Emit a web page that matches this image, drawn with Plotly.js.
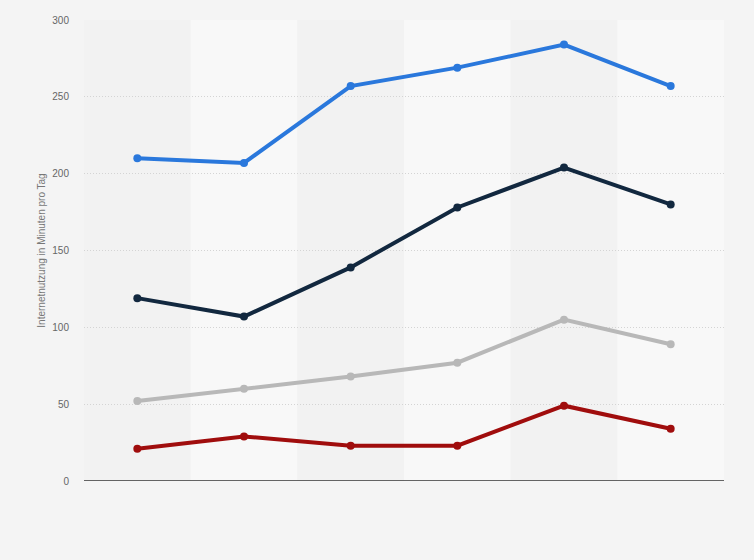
<!DOCTYPE html>
<html>
<head>
<meta charset="utf-8">
<script src="https://cdn.plot.ly/plotly-3.0.1.min.js"></script>
<style>html,body{margin:0;padding:0;background:#f4f4f4;}#chart{width:754px;height:560px;}</style>
</head>
<body>
<div id="chart"></div>
<script>
var categories = ['1', '2', '3', '4', '5', '6'];
var seriesBlue = [210, 207, 257, 269, 284, 257];
var seriesNavy = [119, 107, 139, 178, 204, 180];
var seriesGray = [52, 60, 68, 77, 105, 89];
var seriesRed = [21, 29, 23, 23, 49, 34];
var yTicks = [0, 50, 100, 150, 200, 250, 300];

var idx = categories.map(function (c, i) { return i; });
function tr(y, color) {
  return {
    x: idx, y: y, type: 'scatter', mode: 'lines+markers',
    line: {color: color, width: 4},
    marker: {color: color, size: 8},
    hoverinfo: 'y', showlegend: false
  };
}
var shapes = [];
categories.forEach(function (c, i) {
  shapes.push({
    type: 'rect', xref: 'x', yref: 'paper', x0: i - 0.5, x1: i + 0.5, y0: 0, y1: 1,
    fillcolor: (i % 2 === 0) ? '#f2f2f2' : '#f8f8f8', line: {width: 0}, layer: 'below'
  });
});
shapes.push({type: 'line', xref: 'paper', yref: 'y', x0: 0, x1: 1, y0: 0, y1: 0,
  line: {color: '#333333', width: 1.5}});

var data = [tr(seriesBlue, '#2a78dc'), tr(seriesNavy, '#12283f'), tr(seriesGray, '#b8b8b8'), tr(seriesRed, '#a00d0d')];
var layout = {
  width: 754, height: 560,
  margin: {l: 84, r: 30, t: 20, b: 79},
  paper_bgcolor: '#f4f4f4', plot_bgcolor: '#f4f4f4',
  font: {family: 'Liberation Sans, Arial, sans-serif', size: 10, color: '#666666'},
  xaxis: {range: [-0.5, 5.5], showgrid: false, zeroline: false, showticklabels: false, showline: false, ticks: '', fixedrange: true},
  yaxis: {
    range: [0, 300], tickvals: yTicks, ticktext: yTicks.map(String),
    showgrid: true, gridcolor: '#d4d4d4', griddash: '1px,2px', gridwidth: 1,
    zeroline: false, showline: false, ticks: '', ticklabelstandoff: 14,
    tickfont: {size: 10, color: '#666666'},
    title: {text: 'Internetnutzung in Minuten pro Tag', font: {size: 10, color: '#777777'}, standoff: 4}
  },
  shapes: shapes,
  showlegend: false
};
Plotly.newPlot('chart', data, layout, {displayModeBar: false, staticPlot: true});
</script>
</body>
</html>
